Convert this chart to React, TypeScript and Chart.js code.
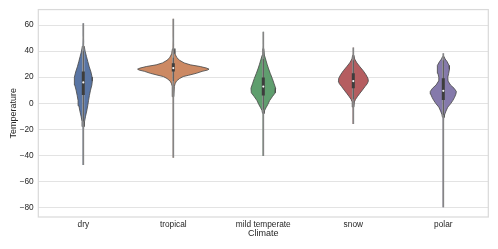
import React, { useEffect, useRef } from 'react';
import { Chart, registerables } from 'chart.js';

Chart.register(...registerables);

// ---- data ----
const categories = ['dry', 'tropical', 'mild temperate', 'snow', 'polar'];
const yTicks = [-80, -60, -40, -20, 0, 20, 40, 60];
const violinColors = ['#5975a4', '#cc8963', '#5f9e6e', '#b55d60', '#857aab'];

// density profiles: [temperature, half width of the violin in category units]
const dryProfile: [number, number][] = [
  [61.5, 0.004], [50, 0.006], [44, 0.01], [40, 0.02], [36, 0.035], [32, 0.05], [28, 0.066],
  [24, 0.085], [20, 0.098], [17, 0.1], [14, 0.095], [10, 0.08], [6, 0.068], [2, 0.058],
  [-2, 0.049], [-6, 0.038], [-10, 0.025], [-14, 0.014], [-18, 0.009], [-24, 0.006],
  [-35, 0.005], [-47.5, 0.004],
];
const tropicalProfile: [number, number][] = [
  [65, 0.004], [50, 0.006], [42, 0.009], [38, 0.018], [35, 0.04], [33, 0.07], [31, 0.12],
  [29.5, 0.19], [28.2, 0.3], [27, 0.37], [26.2, 0.397], [25.5, 0.38], [24.5, 0.32],
  [23, 0.255], [21.5, 0.17], [20.5, 0.11], [19, 0.07], [17, 0.035], [15, 0.02], [13, 0.012],
  [5, 0.006], [-10, 0.005], [-42, 0.004],
];
const mildProfile: [number, number][] = [
  [55, 0.004], [42, 0.006], [37, 0.012], [34, 0.025], [30, 0.042], [27, 0.056], [23, 0.077],
  [19, 0.1], [15, 0.12], [11.5, 0.137], [8, 0.133], [5, 0.1], [2, 0.07], [-1, 0.05],
  [-3.5, 0.03], [-5.5, 0.015], [-8, 0.008], [-15, 0.006], [-40.5, 0.004],
];
const snowProfile: [number, number][] = [
  [42.8, 0.004], [37, 0.007], [34, 0.015], [31, 0.04], [28, 0.074], [25, 0.11], [22, 0.14],
  [19, 0.163], [17, 0.167], [15, 0.155], [12.8, 0.13], [10, 0.1], [7.7, 0.074], [5, 0.045],
  [3, 0.025], [1, 0.012], [-3, 0.007], [-15.9, 0.004],
];
const polarProfile: [number, number][] = [
  [38.5, 0.004], [36, 0.008], [34, 0.02], [32, 0.042], [29, 0.064], [26, 0.068], [23, 0.06],
  [20, 0.05], [17, 0.053], [14, 0.08], [11.5, 0.12], [9, 0.145], [7, 0.14], [4.5, 0.125],
  [2, 0.105], [-0.5, 0.08], [-3, 0.05], [-6, 0.03], [-8.5, 0.016], [-11, 0.009],
  [-20, 0.006], [-40, 0.005], [-80, 0.004],
];
const profiles = [dryProfile, tropicalProfile, mildProfile, snowProfile, polarProfile];

const q1Values = [6.4, 24.3, 5.9, 11.5, 2.5];
const medianValues = [16, 27, 12.8, 17, 9.5];
const q3Values = [24.3, 30.8, 19.7, 23, 19.2];
const whiskerLow = [-14, 17, -5, 3, -9];
const whiskerHigh = [40, 35, 34, 33, 33];

const GRAY = '#4c4c4c';
const TAIL = '#858585';
const TEXT = '#262626';
const FONT = "'Liberation Sans', Arial, Helvetica, sans-serif";
const THIN = 0.011;

const framePlugin = {
  id: 'frame',
  afterDraw(chart: any) {
    const { ctx, chartArea } = chart;
    ctx.save();
    ctx.strokeStyle = '#d9d9d9';
    ctx.lineWidth = 1.2;
    ctx.strokeRect(chartArea.left, chartArea.top, chartArea.right - chartArea.left, chartArea.bottom - chartArea.top);
    ctx.restore();
  },
};

export default function App() {
  const ref = useRef<HTMLCanvasElement>(null);

  useEffect(() => {
    document.body.style.margin = '0';
    const datasets: any[] = [];
    profiles.forEach((prof, i) => {
      const rightSide = prof.map(([y, w]) => ({ x: i + w, y, w }));
      const leftSide = prof.slice().reverse().map(([y, w]) => ({ x: i - w, y, w }));
      const pts = [...rightSide, ...leftSide, rightSide[0]];
      datasets.push({
        label: categories[i],
        data: pts,
        showLine: true,
        fill: 'shape',
        backgroundColor: violinColors[i],
        borderColor: GRAY,
        borderWidth: 0.85,
        segment: {
          borderColor: (ctx: any) =>
            pts[ctx.p0DataIndex].w < THIN && pts[ctx.p1DataIndex].w < THIN ? 'rgba(0,0,0,0)' : GRAY,
        },
        pointRadius: 0,
        tension: 0,
        order: 4,
      });
      // the thin tail of the violin, from its lowest to its highest extent
      datasets.push({
        data: [{ x: i, y: prof[prof.length - 1][0] }, { x: i, y: prof[0][0] }],
        showLine: true,
        fill: false,
        borderColor: TAIL,
        borderWidth: 1.7,
        pointRadius: 0,
        order: 3,
      });
      datasets.push({
        data: [{ x: i, y: whiskerLow[i] }, { x: i, y: whiskerHigh[i] }],
        showLine: true,
        fill: false,
        borderColor: GRAY,
        borderWidth: 0.8,
        pointRadius: 0,
        order: 2,
      });
      datasets.push({
        data: [{ x: i, y: q1Values[i] }, { x: i, y: q3Values[i] }],
        showLine: true,
        fill: false,
        borderColor: '#3d3d3d',
        borderWidth: 3,
        borderCapStyle: 'butt',
        pointRadius: 0,
        order: 1,
      });
    });
    datasets.push({
      data: medianValues.map((m, i) => ({ x: i, y: m })),
      showLine: false,
      pointRadius: 1.1,
      pointBackgroundColor: '#f2f2f2',
      pointBorderWidth: 0,
      order: 0,
    });

    const chart = new Chart(ref.current as HTMLCanvasElement, {
      type: 'line',
      data: { datasets },
      options: {
        animation: false,
        responsive: false,
        events: [],
        layout: { padding: { left: 0, right: 9.7, top: 9.3, bottom: 0 } },
        plugins: { legend: { display: false }, tooltip: { enabled: false } },
        scales: {
          x: {
            type: 'linear',
            min: -0.5,
            max: 4.5,
            afterBuildTicks: (scale: any) => {
              scale.ticks = categories.map((_, i) => ({ value: i }));
            },
            afterFit: (scale: any) => {
              scale.height = 32;
            },
            grid: { display: false, drawTicks: false },
            border: { display: false },
            ticks: {
              padding: 3,
              color: TEXT,
              font: { family: FONT, size: 8.3 },
              maxRotation: 0,
              autoSkip: false,
              callback: (v: any) => categories[Number(v)] ?? '',
            },
            title: {
              display: true,
              text: 'Climate',
              color: TEXT,
              font: { family: FONT, size: 9 },
              padding: { top: 0, bottom: 9.6 },
            },
          },
          y: {
            type: 'linear',
            min: -87.5,
            max: 72,
            afterBuildTicks: (scale: any) => {
              scale.ticks = yTicks.map((v) => ({ value: v }));
            },
            afterFit: (scale: any) => {
              scale.width = 38.3;
            },
            grid: { color: '#e3e3e3', lineWidth: 1, drawTicks: false },
            border: { display: false },
            ticks: {
              padding: 4.6,
              color: TEXT,
              font: { family: FONT, size: 8.3 },
              callback: (v: any) => (Number(v) < 0 ? '\u2212' + Math.abs(Number(v)) : String(v)),
            },
            title: {
              display: true,
              text: 'Temperature',
              color: TEXT,
              font: { family: FONT, size: 9 },
              padding: { top: 7.9, bottom: 0 },
            },
          },
        },
      },
      plugins: [framePlugin],
    });
    return () => chart.destroy();
  }, []);

  return (
    <div style={{ position: 'absolute', left: 0, top: 0, width: 498, height: 249 }}>
      <canvas ref={ref} width={498} height={249} style={{ display: 'block' }} />
    </div>
  );
}
